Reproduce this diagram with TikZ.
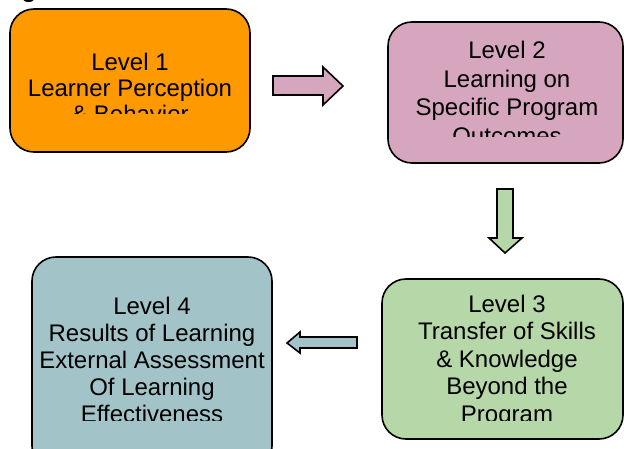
\documentclass[tikz,border=0pt]{standalone}
\usepackage{fontspec}
\setmainfont{Liberation Sans}
\definecolor{orangeL}{HTML}{FF9900}
\definecolor{pinkL}{HTML}{D5A6BD}
\definecolor{greenL}{HTML}{B6D7A8}
\definecolor{tealL}{HTML}{A2C4C9}
\tikzset{
  levelbox/.style={draw=black, line width=1.6pt, rounded corners=24pt},
  leveltext/.style={anchor=north, inner sep=0pt, align=center,
    font=\fontsize{24}{27.5}\selectfont},
  blockarrow/.style={draw=black, line width=1.6pt, line join=miter}
}
\begin{document}
\begin{tikzpicture}[x=1pt,y=-1pt]
\useasboundingbox (0,0) rectangle (624,449);
\clip (0,0) rectangle (624,449);
% partial title glyph at top-left
\node[anchor=base, inner sep=0pt, font=\bfseries\fontsize{24}{28}\selectfont] (ttl) at (29,-2) {g};
% boxes
\draw[levelbox, fill=orangeL] (10,9) rectangle (250,152);
\draw[levelbox, fill=pinkL] (388,22) rectangle (623,163);
\draw[levelbox, fill=greenL] (382,279) rectangle (623,439);
\draw[levelbox, fill=tealL] (32,257) rectangle (272,470);
% texts (clipped at bottom as in the reference)
\begin{scope}
\clip (10,9) rectangle (250,113.5);
\node[leveltext, font=\fontsize{24}{26}\selectfont] (t1) at (130,52.5) {Level 1\\Learner Perception\\\& Behavior};
\end{scope}
\begin{scope}
\clip (388,22) rectangle (623,137);
\node[leveltext, font=\fontsize{24}{28.5}\selectfont] (t2) at (507,41) {Level 2\\Learning on\\Specific Program\\Outcomes};
\end{scope}
\begin{scope}
\clip (382,279) rectangle (623,420);
\node[leveltext] (t3) at (507,294.5) {Level 3\\Transfer of Skills\\\& Knowledge\\Beyond the\\Program};
\end{scope}
\begin{scope}
\clip (32,257) rectangle (272,420);
\node[leveltext, font=\fontsize{24}{27}\selectfont] (t4) at (152,296.5) {Level 4\\Results of Learning\\External Assessment\\Of Learning\\Effectiveness};
\end{scope}
% block arrows
\draw[blockarrow, fill=pinkL] (273,76) -- (323,76) -- (323,67) -- (343,86) -- (323,105) -- (323,95) -- (273,95) -- cycle;
\draw[blockarrow, fill=greenL] (497,189) -- (513,189) -- (513,238) -- (522,238) -- (505,253) -- (489,238) -- (497,238) -- cycle;
\draw[blockarrow, fill=tealL] (357,337) -- (300,337) -- (300,332) -- (287,343) -- (300,353) -- (300,348) -- (357,348) -- cycle;
\end{tikzpicture}
\end{document}
